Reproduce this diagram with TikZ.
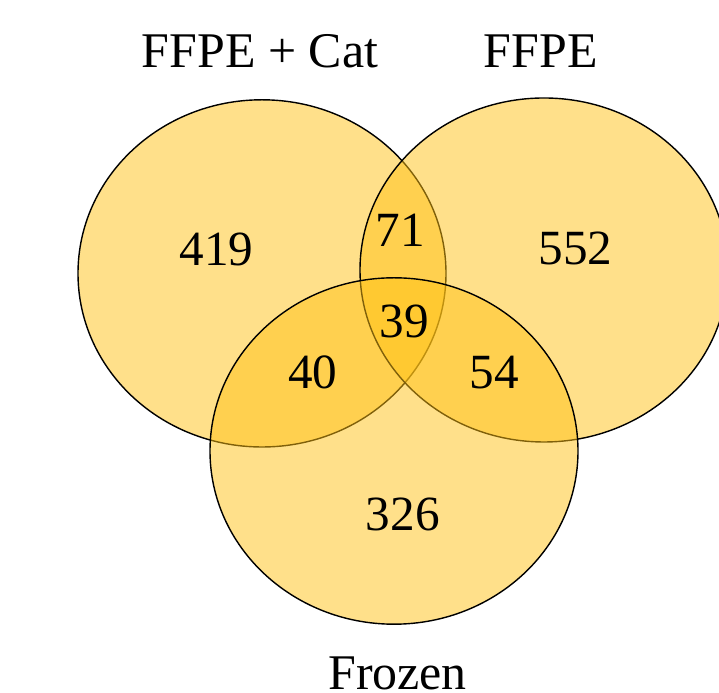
\documentclass[tikz,border=0pt]{standalone}
\usepackage{fontspec}
\setmainfont{Liberation Serif}
\usepackage{tikz}

\definecolor{vennamber}{RGB}{255,193,21}

\begin{document}
\begin{tikzpicture}[
		set/.style={draw=black,line width=1pt,fill=vennamber,fill opacity=.5},
		count/.style={font=\fontsize{35}{42}\selectfont,inner sep=0pt},
		title/.style={font=\fontsize{35.5}{42}\selectfont,inner sep=0pt}
	]
			\useasboundingbox (0,0) rectangle (17.975,17.325);
			\begin{scope}
				\clip (0,0) rectangle (17.975,17.325);
				\draw[set] (6.55,10.49) ellipse (4.6cm and 4.34cm);
				\draw[set] (13.6,10.575) ellipse (4.6cm and 4.3cm);
				\draw[set] (9.85,6.05) ellipse (4.6cm and 4.33cm);
			\end{scope}
			
			\node[title] (ffpecat) at (6.5,16.05) {FFPE + Cat};
			\node[title] (ffpe) at (13.52,16.05) {FFPE};
			\node[title] (frozen) at (9.94,0.5) {Frozen};
			
			\node[count] (onlycat) at (5.41,11.09) {419};
			\node[count] (onlyffpe) at (14.39,11.11) {552};
			\node[count] (onlyfrozen) at (10.07,4.46) {326};
			\node[count] (catffpe) at (10.0,11.575) {71};
			\node[count] (catfrozen) at (7.82,8.01) {40};
			\node[count] (ffpefrozen) at (12.36,8.0) {54};
			\node[count] (allthree) at (10.11,9.29) {39};
		\end{tikzpicture}
\end{document}
